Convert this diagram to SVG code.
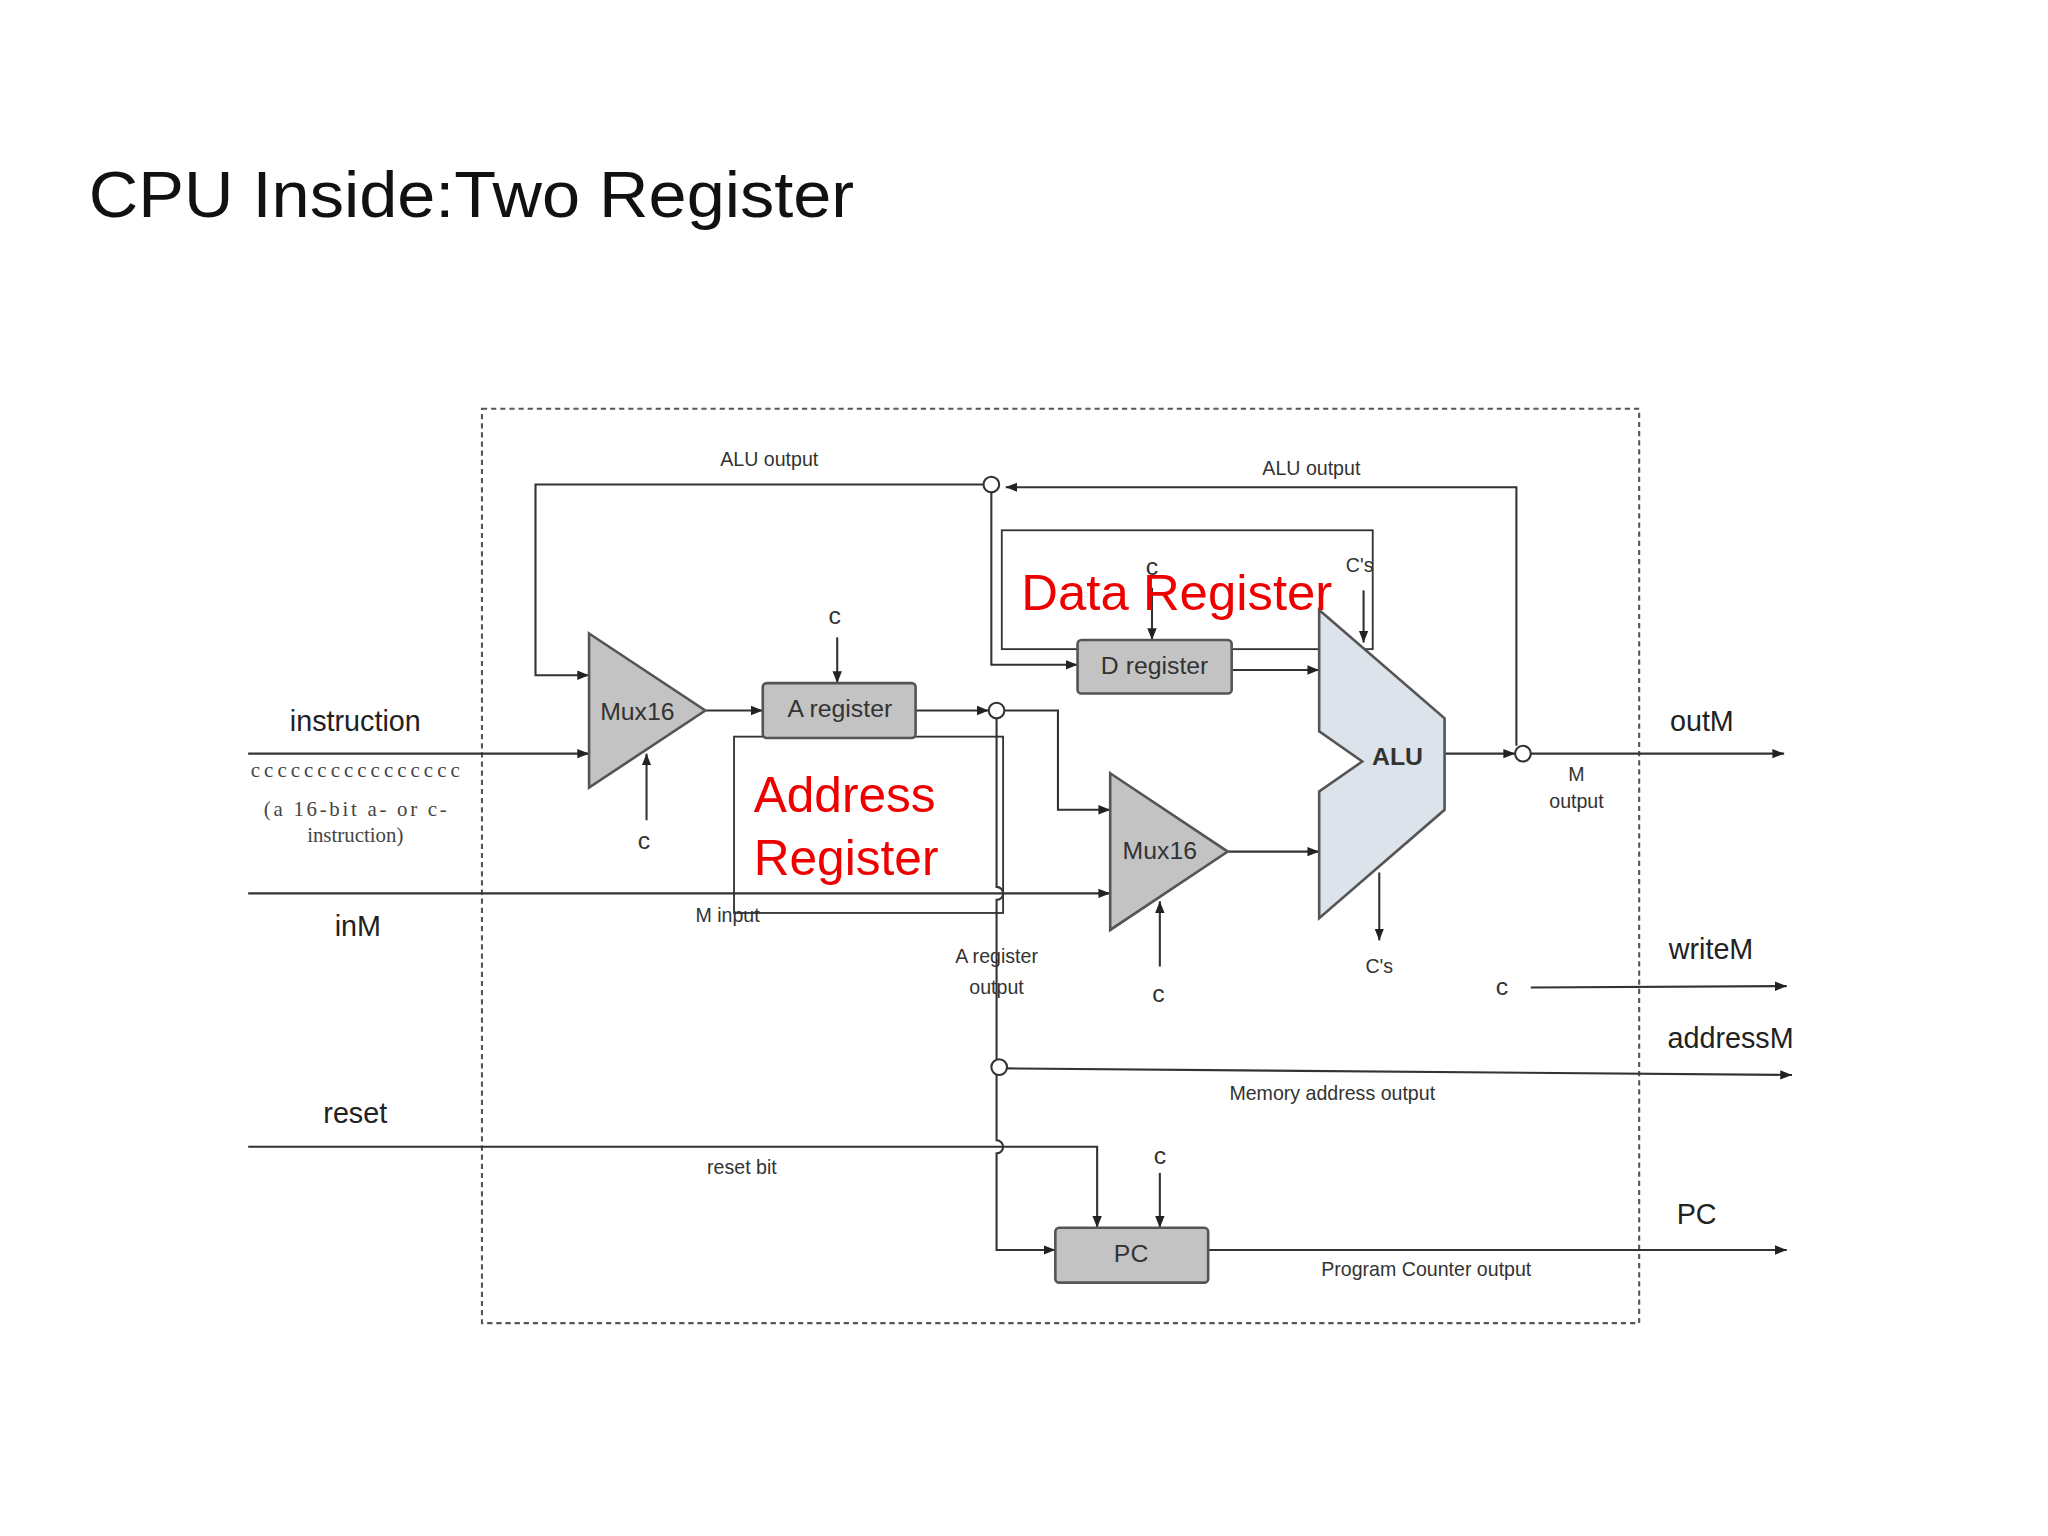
<svg xmlns="http://www.w3.org/2000/svg" width="2048" height="1536" viewBox="0 0 2048 1536">
<defs>
<marker id="ar" viewBox="0 0 10 10" refX="10" refY="5" markerWidth="9" markerHeight="9" markerUnits="userSpaceOnUse" orient="auto"><path d="M0,1 L10,5 L0,9 z" fill="#222"/></marker>
<style>
.w{fill:none;stroke:#333;stroke-width:1.6}
.a{fill:none;stroke:#333;stroke-width:1.6;marker-end:url(#ar)}
.t{font-family:"Liberation Sans",Arial,sans-serif;fill:#333;text-anchor:middle}
.s{font-size:15px}
.m{font-size:19px}
.l{font-size:22px;fill:#222}
.r{font-family:"Liberation Sans",Arial,sans-serif;fill:#e00;font-size:38px}
.reg{fill:#c3c3c3;stroke:#555;stroke-width:2}
.c{fill:#fff;stroke:#333;stroke-width:1.6}
.sf{font-family:"Liberation Serif","Times New Roman",serif;fill:#444;font-size:16px;text-anchor:middle}
</style>
</defs>
<rect width="2048" height="1536" fill="#fff"/>
<g transform="scale(1.30612)">
<text x="68" y="166" font-family="Liberation Sans,Arial,sans-serif" font-size="50" fill="#111" textLength="586" lengthAdjust="spacingAndGlyphs">CPU Inside:Two Register</text>
<rect x="369" y="313" width="886" height="700" fill="none" stroke="#555" stroke-width="1.6" stroke-dasharray="4,3"/>
<g id="connectors">
<path class="a" d="M753,371 H410 V517 H451"/>
<path class="a" d="M1161,571 V373 H770"/>
<path class="a" d="M759,377 V509 H825"/>
<path class="a" d="M882,450 V490"/>
<path class="a" d="M1044,452 V492"/>
<path class="a" d="M943,513 H1010"/>
<path class="a" d="M1106,577 H1160"/>
<path class="a" d="M1172,577 H1366"/>
<path class="a" d="M1056,668 V720"/>
<path class="a" d="M769,544 H810 V620 H850"/>
<path class="a" d="M190,684 H850"/>
<path class="a" d="M888,740 V690"/>
<path class="a" d="M940,652 H1010"/>
<path class="a" d="M190,577 H451"/>
<path class="a" d="M495,628 V577"/>
<path class="a" d="M540,544 H584"/>
<path class="a" d="M641,488 V523"/>
<path class="a" d="M701,544 H757"/>
<path class="w" d="M763,550 V679 A5,5 0 0 1 763,689 V811"/>
<path class="a" d="M763,823 V873 A5,5 0 0 1 763,883 V957 H808"/>
<path class="a" d="M771,818 L1372,823"/>
<path class="a" d="M1172,756 L1368,755"/>
<path class="a" d="M190,878 H840 V940"/>
<path class="a" d="M888,898 V940"/>
<path class="a" d="M925,957 H1368"/>
</g>
<rect x="767" y="406" width="284" height="91" fill="none" stroke="#333" stroke-width="1.4"/>
<rect x="562" y="564" width="206" height="135" fill="none" stroke="#333" stroke-width="1.4"/>
<circle class="c" cx="759" cy="371" r="6"/>
<circle class="c" cx="763" cy="544" r="6"/>
<circle class="c" cx="765" cy="817" r="6"/>
<circle class="c" cx="1166" cy="577" r="6"/>
<g id="mux1"><polygon points="451,485 540,544 451,603" fill="#c3c3c3" stroke="#555" stroke-width="2"/><text class="t m" x="488" y="551">Mux16</text></g>
<g id="areg"><rect class="reg" x="584" y="523" width="117" height="42" rx="3"/><text class="t m" x="643" y="549">A register</text></g>
<g id="dreg"><rect class="reg" x="825" y="490" width="118" height="41" rx="3"/><text class="t m" x="884" y="516">D register</text></g>
<g id="mux2"><polygon points="850,592 940,652 850,712" fill="#c3c3c3" stroke="#555" stroke-width="2"/><text class="t m" x="888" y="658">Mux16</text></g>
<g id="alu"><polygon points="1010,467 1106,550 1106,620 1010,703 1010,606 1043,583 1010,560" fill="#dde3ea" stroke="#555" stroke-width="2"/><text class="t" x="1070" y="586" font-size="19" font-weight="bold" fill="#222">ALU</text></g>
<g id="pc"><rect class="reg" x="808" y="940" width="117" height="42" rx="3"/><text class="t m" x="866" y="966">PC</text></g>
<text class="t s" x="589" y="357">ALU output</text>
<text class="t s" x="1004" y="364">ALU output</text>
<text class="t m" x="882" y="440">c</text>
<text class="t s" x="1041" y="438">C's</text>
<text class="t m" x="639" y="478">c</text>
<text class="t m" x="493" y="650">c</text>
<text class="t m" x="887" y="767">c</text>
<text class="t m" x="888" y="891">c</text>
<text class="t m" x="1150" y="762">c</text>
<text class="t s" x="1056" y="745">C's</text>
<text class="t s" x="1207" y="598">M</text>
<text class="t s" x="1207" y="619">output</text>
<text class="t s" x="557" y="706">M input</text>
<text class="t s" x="763" y="737">A register</text>
<text class="t s" x="763" y="761">output</text>
<text class="t s" x="1020" y="842">Memory address output</text>
<text class="t s" x="568" y="899">reset bit</text>
<text class="t s" x="1092" y="977">Program Counter output</text>
<text class="t l" x="272" y="560">instruction</text>
<text class="sf" x="272" y="595" textLength="160" lengthAdjust="spacing">cccccccccccccccc</text>
<text class="sf" x="272" y="625" textLength="140" lengthAdjust="spacing">(a 16-bit a- or c-</text>
<text class="sf" x="272" y="645">instruction)</text>
<text class="t l" x="274" y="717">inM</text>
<text class="t l" x="272" y="860">reset</text>
<text class="t l" x="1303" y="560">outM</text>
<text class="t l" x="1310" y="734">writeM</text>
<text class="t l" x="1325" y="802">addressM</text>
<text class="t l" x="1299" y="937">PC</text>
<text class="r" x="782" y="467" textLength="238" lengthAdjust="spacingAndGlyphs">Data Register</text>
<text class="r" x="577" y="622">Address</text>
<text class="r" x="577" y="670">Register</text>
</g>
</svg>
